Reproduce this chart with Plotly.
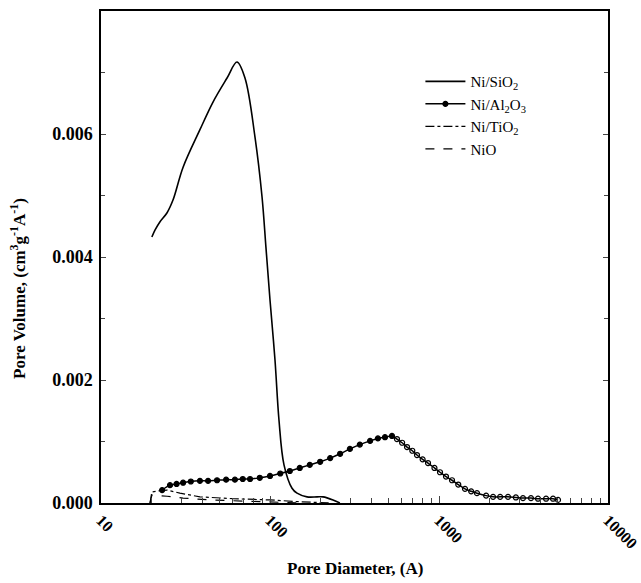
import plotly.graph_objects as go

# Pore size distributions (pore diameter in Angstrom, pore volume in cm3 g-1 A-1)
sio2_d = [20.0, 20.9, 22.3, 24.6, 26.7, 30.6, 38.5, 46.0, 55.7, 63.8, 71.1, 81.5,
          89.7, 94.6, 100, 107, 113, 121, 135, 144.5, 165.6, 190, 206, 236, 259]
sio2_v = [0.004325, 0.00444, 0.00457, 0.00472, 0.00493, 0.00546, 0.00607, 0.00652,
          0.00691, 0.00717, 0.00691, 0.00595, 0.00498, 0.00416, 0.00330, 0.00233,
          0.00135, 0.00062, 0.00024, 0.00016, 0.00010, 0.00010, 0.00010, 0.00005, 0.0]

al2o3_d = [23.0, 25.6, 28.0, 30.6, 34.0, 38.5, 43.0, 48.6, 55.0, 62.0, 69.0, 76.2,
           87.0, 100, 115, 131, 150, 172, 198, 227, 260, 297, 340, 391, 435, 479,
           527, 564, 605, 647, 695, 741, 800, 861, 940, 1014, 1100, 1194, 1300,
           1425, 1550, 1678, 1900, 2089, 2300, 2561, 2850, 3140, 3500, 3854, 4300,
           4729, 5061]
al2o3_v = [0.00021, 0.00029, 0.00031, 0.00033, 0.00035, 0.00036, 0.00036, 0.00037,
           0.00038, 0.00038, 0.00039, 0.00039, 0.00041, 0.00044, 0.00048, 0.00052,
           0.00057, 0.00062, 0.00067, 0.00073, 0.00080, 0.00088, 0.00095, 0.00101,
           0.00105, 0.00107, 0.00109, 0.00104, 0.00098, 0.00091, 0.00085, 0.00078,
           0.00071, 0.00065, 0.00057, 0.00050, 0.00043, 0.00037, 0.00030, 0.00023,
           0.00019, 0.00016, 0.00012, 0.00010, 0.00010, 0.00010, 0.00009, 0.00008,
           0.00008, 0.00007, 0.00007, 0.00007, 0.00005]

tio2_d = [19.5, 20.0, 22.3, 24.6, 29.3, 38.5, 60.4, 100, 150.6, 227]
tio2_v = [0.0, 0.00018, 0.00020, 0.00021, 0.00016, 0.00010, 0.00007, 0.00005, 0.00002, 0.0]

nio_d = [19.5, 20.0, 24.6, 30.6, 44.2, 95.6, 150]
nio_v = [0.0, 0.00013, 0.00011, 0.00008, 0.00005, 0.00002, 0.0]

x_ticks = [10, 100, 1000, 10000]
x_tick_text = ["10", "100", "1000", "10000"]
y_ticks = [0.0, 0.002, 0.004, 0.006]
y_tick_text = ["0.000", "0.002", "0.004", "0.006"]

serif = "Liberation Serif, Times New Roman, serif"

# filled dots on the rising side, open circles past the maximum
al2o3_symbols = ["circle" if d <= 527 else "circle-open" for d in al2o3_d]

fig = go.Figure()
fig.add_trace(go.Scatter(x=sio2_d, y=sio2_v, mode="lines", name="Ni/SiO<sub>2</sub>",
                         line=dict(color="black", width=1.6, shape="spline")))
fig.add_trace(go.Scatter(x=al2o3_d, y=al2o3_v, mode="lines+markers",
                         name="Ni/Al<sub>2</sub>O<sub>3</sub>",
                         line=dict(color="black", width=1.5, shape="spline"),
                         marker=dict(symbol=al2o3_symbols, size=5, color="black",
                                     line=dict(color="black", width=1.2))))
fig.add_trace(go.Scatter(x=tio2_d, y=tio2_v, mode="lines", name="Ni/TiO<sub>2</sub>",
                         line=dict(color="black", width=1.2, dash="dashdot")))
fig.add_trace(go.Scatter(x=nio_d, y=nio_v, mode="lines", name="NiO",
                         line=dict(color="black", width=1.2, dash="dash")))

fig.update_layout(
    width=641, height=583,
    margin=dict(l=101, r=33, t=11, b=80),
    paper_bgcolor="white", plot_bgcolor="white",
    font=dict(family=serif, color="black"),
    showlegend=True,
    legend=dict(x=0.63, y=0.89, xanchor="left", yanchor="top",
                bgcolor="rgba(0,0,0,0)", font=dict(size=15, family=serif),
                itemwidth=40, tracegroupgap=0),
    xaxis=dict(type="log", range=[1, 4], tickvals=x_ticks, ticktext=x_tick_text,
               tickangle=45, ticks="inside", ticklen=7, tickwidth=1.2,
               ticklabeloverflow="allow", automargin=False,
               tickfont=dict(size=16, family=serif, weight="bold"),
               minor=dict(ticks="inside", ticklen=5, tickwidth=1.2, dtick="D1",
                          showgrid=False),
               showline=True, linecolor="black", linewidth=1.5, mirror=True,
               showgrid=False, zeroline=False),
    yaxis=dict(range=[0, 0.008], tickvals=y_ticks, ticktext=y_tick_text,
               ticks="inside", ticklen=5, tickwidth=1.2, ticklabelstandoff=3,
               automargin=False,
               tickfont=dict(size=18, family=serif, weight="bold"),
               minor=dict(ticks="inside", ticklen=4, tickwidth=1.2, dtick=0.001,
                          showgrid=False),
               showline=True, linecolor="black", linewidth=1.5, mirror="ticks",
               showgrid=False, zeroline=False),
    annotations=[
        dict(text="Pore Diameter, (A)", xref="paper", yref="paper", x=0.5, y=0,
             yshift=-65, xanchor="center", yanchor="middle", showarrow=False,
             font=dict(size=17, family=serif, weight="bold")),
        dict(text="Pore Volume, (cm<sup>3</sup>g<sup>-1</sup>A<sup>-1</sup>)",
             xref="paper", yref="paper", x=0, xshift=-83, y=0.435,
             xanchor="center", yanchor="middle", textangle=-90, showarrow=False,
             font=dict(size=17, family=serif, weight="bold")),
    ],
)

fig.write_html("out.html")
